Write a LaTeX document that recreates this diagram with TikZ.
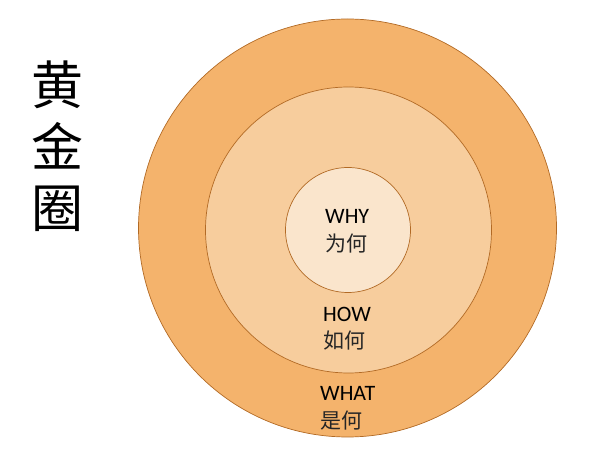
\documentclass[tikz,border=0pt]{standalone}
\usepackage{fontspec}
\setmainfont{Carlito}
\newfontfamily\cjk{Noto Sans CJK SC}
\usepackage{tikz}
\usetikzlibrary{positioning}
\definecolor{ringout}{HTML}{F4B36C}
\definecolor{ringmid}{HTML}{F7CD9D}
\definecolor{ringin}{HTML}{FAE5CC}
\definecolor{ringline}{HTML}{B26A25}
\tikzset{
  ring/.style={circle, draw=ringline, line width=0.7pt, inner sep=0pt},
  entxt/.style={anchor=west, inner sep=0pt, font=\fontsize{22}{26}\selectfont},
  zhtxt/.style={anchor=west, inner sep=0pt, font=\cjk\fontsize{21}{26}\selectfont, text=black!85},
  title/.style={inner sep=0pt, font=\cjk\fontsize{52}{60}\selectfont}
}
\begin{document}
\begin{tikzpicture}[x=1pt,y=-1pt]
    \useasboundingbox (0,0) rectangle (614,470);
    \node[ring, fill=ringout, minimum size=418pt] (outer) at (347.5,228) {}; % WHAT
    \node[ring, fill=ringmid, minimum size=286pt] (middle) at (348.5,230) {}; % HOW
    \node[ring, fill=ringin, minimum size=125pt] (inner) at (348,230) {}; % WHY
    \node[entxt] (why) at (325,216) {WHY};
    \node[zhtxt] (whyzh) at (325,244) {为何};
    \node[entxt] (how) at (323,314) {HOW};
    \node[zhtxt] (howzh) at (323,340.5) {如何};
    \node[entxt] (what) at (320,393) {WHAT};
    \node[zhtxt] (whatzh) at (320,420.5) {是何};
    \node[title] (t1) at (57,85) {黄};
    \node[title] (t2) at (57,146) {金};
    \node[title] (t3) at (57,209) {圈};
\end{tikzpicture}
\end{document}
